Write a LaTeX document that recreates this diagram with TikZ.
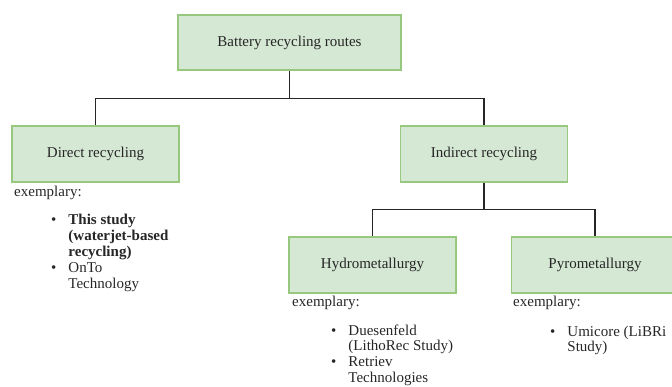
\documentclass[tikz,border=0pt]{standalone}
\usepackage{fontspec}
\setmainfont{Liberation Serif}
\usepackage{tikz}
\usetikzlibrary{positioning}
\definecolor{boxfill}{HTML}{D5E8D4}
\definecolor{boxline}{HTML}{97C87E}
\definecolor{txt}{HTML}{262626}
\tikzset{
	box/.style={draw=boxline, fill=boxfill, line width=1.4pt, minimum width=167pt, minimum height=56pt, text=txt, font=\fontsize{15}{15.8}\selectfont},
	note/.style={inner sep=0pt, text=txt, font=\fontsize{15}{15.8}\selectfont},
	link/.style={draw=black!85, line width=1.6pt}
}
\newcommand{\blist}[1]{\begin{tabular}[t]{@{}l@{\hspace{12pt}}l@{}}#1\end{tabular}}

\begin{document}
\begin{tikzpicture}[x=1pt,y=-1pt]
	\useasboundingbox (0,0) rectangle (672,387);
	\node[box, minimum width=223pt, minimum height=55pt] (routes) at (289.5,42.5) {Battery recycling routes};
	\node[box] (direct) at (95.5,154) {Direct recycling};
	\node[box] (indirect) at (484,154) {Indirect recycling};
	\node[box] (hydro) at (372.5,265) {Hydrometallurgy};
	\node[box] (pyro) at (595,265) {Pyrometallurgy};

	\draw[link] (routes.south) -- ++(0,28) coordinate (j1);
	\draw[link] (j1) -| (direct.north);
	\draw[link] (j1) -| (indirect.north);
	\draw[link] (indirect.south) -- ++(0,27) coordinate (j2);
	\draw[link] (j2) -| (hydro.north);
	\draw[link] (j2) -| (pyro.north);

	\node[note, anchor=west] (exdirect) at (14,193) {exemplary:};
	\node[note, anchor=west] (exhydro) at (292,303) {exemplary:};
	\node[note, anchor=west] (expyro) at (513,303) {exemplary:};

	\node[note, anchor=base west] (ldirect) at (51,225) {\blist{\textbullet & \textbf{This study}\\ & \textbf{(waterjet-based}\\ & \textbf{recycling)}\\ \textbullet & OnTo\\ & Technology}};
	\node[note, anchor=base west] (lhydro) at (331,335) {\blist{\textbullet & Duesenfeld\\ & (LithoRec Study)\\ \textbullet & Retriev\\ & Technologies}};
	\node[note, anchor=base west] (lpyro) at (550,336) {\blist{\textbullet & Umicore (LiBRi\\ & Study)}};
\end{tikzpicture}
\end{document}
